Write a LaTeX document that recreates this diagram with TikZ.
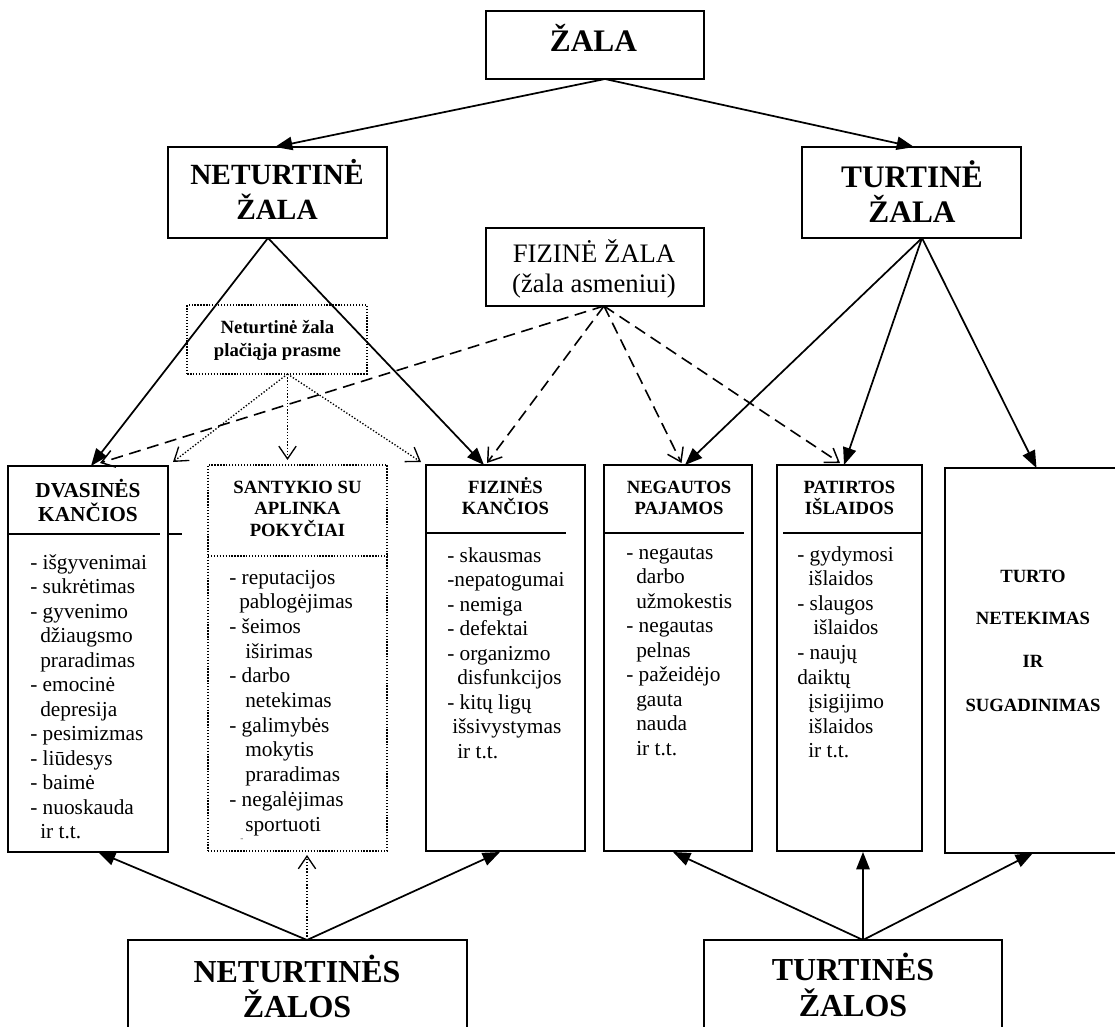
\documentclass[tikz,border=0pt]{standalone}
\usepackage{fontspec}
\setmainfont{Liberation Serif}
\usetikzlibrary{arrows.meta,calc}
\newcommand\fTitle{\fontsize{23.5}{26}\selectfont\bfseries}
\newcommand\fNTitle{\fontsize{22}{26}\selectfont\bfseries}
\newcommand\fHead{\fontsize{14}{16}\selectfont\bfseries}
\newcommand\fHeadB{\fontsize{16}{18}\selectfont\bfseries}
\newcommand\fFiz{\fontsize{20}{24}\selectfont}
\begin{document}
\begin{tikzpicture}[x=0.75pt,y=-0.75pt,
  boxsz/.style 2 args={minimum width=#1*0.75pt,minimum height=#2*0.75pt},
  sbox/.style={draw,line width=1.5pt,inner sep=0pt,outer sep=0pt},
  dbox/.style={draw,line width=1.3pt,dash pattern=on 1pt off 1.2pt,inner sep=0pt,outer sep=0pt},
  txt/.style={inner sep=0pt,anchor=base},
  ltxt/.style={inner sep=0pt,anchor=base west,font=\fontsize{16}{18}\selectfont},
  sepline/.style={line width=1.5pt},
  solidarr/.style={line width=1.3pt,-{Triangle[length=13pt,width=10pt]}},
  dasharr/.style={line width=1.2pt,dash pattern=on 9pt off 5pt,-{Straight Barb[length=9.5pt,width=13pt,line width=1.1pt]}},
  dotarr/.style={line width=1pt,dash pattern=on 1pt off 1.4pt,-{Straight Barb[length=9.5pt,width=13pt,line width=1pt]}},
]
\useasboundingbox (0,0) rectangle (1115,1027);
\clip (0,0) rectangle (1115,1027);

% top boxes
\node[sbox,boxsz={218}{68}] (zala) at (595,45) {};
\node[txt,font=\fTitle] (zalat) at (593.5,52) {ŽALA};

\node[sbox,boxsz={219}{91}] (nz) at (277.5,192.5) {};
\node[txt,font=\fNTitle] (nzt1) at (277,185) {NETURTINĖ};
\node[txt,font=\fNTitle] (nzt2) at (277,220) {ŽALA};

\node[sbox,boxsz={219}{91}] (tz) at (911.5,192.5) {};
\node[txt,font=\fTitle] (tzt1) at (912,188) {TURTINĖ};
\node[txt,font=\fTitle] (tzt2) at (912,223) {ŽALA};

\node[sbox,boxsz={218}{78}] (fz) at (595,267) {};
\node[txt,font=\fFiz] (fzt1) at (594,263) {FIZINĖ ŽALA};
\node[txt,font=\fFiz] (fzt2) at (594,293) {(žala asmeniui)};

\node[dbox,boxsz={179.5}{69}] (npl) at (277,339.5) {};
\node[txt,font=\fontsize{14}{16}\selectfont\bfseries] (nplt1) at (277.5,334) {Neturtinė žala};
\node[txt,font=\fontsize{14}{16}\selectfont\bfseries] (nplt2) at (277.5,357) {plačiąja prasme};

% column boxes
\node[sbox,boxsz={160}{386}] (dv) at (88,659) {};
\node[dbox,boxsz={179}{386}] (sa) at (297.5,658) {};
\node[sbox,boxsz={159}{386}] (fk) at (505.5,658) {};
\node[sbox,boxsz={148}{386}] (ng) at (678,658) {};
\node[sbox,boxsz={145}{386}] (pt) at (849.5,658) {};
\node[sbox,boxsz={180}{385}] (tt) at (1035,660.5) {};

% separators
\draw[sepline] (8,534) -- (160,534);
\draw[sepline] (168,534) -- (182,534);
\draw[line width=1.3pt,dash pattern=on 1pt off 1.2pt] (208,556) -- (387,556);
\draw[sepline] (426,533) -- (566,533);
\draw[sepline] (604,533) -- (744,533);
\draw[sepline] (783,533) -- (922,533);

% headers
\node[txt,font=\fHeadB] (dvh1) at (88,497) {DVASINĖS};
\node[txt,font=\fHeadB] (dvh2) at (88,521) {KANČIOS};
\node[txt,font=\fHead] (sah1) at (297.5,493) {SANTYKIO SU};
\node[txt,font=\fHead] (sah2) at (297.5,514.5) {APLINKA};
\node[txt,font=\fHead] (sah3) at (297.5,536) {POKYČIAI};
\node[txt,font=\fHead] (fkh1) at (505.5,493) {FIZINĖS};
\node[txt,font=\fHead] (fkh2) at (505.5,514) {KANČIOS};
\node[txt,font=\fHead] (ngh1) at (679,493) {NEGAUTOS};
\node[txt,font=\fHead] (ngh2) at (679,514) {PAJAMOS};
\node[txt,font=\fHead] (pth1) at (849.5,493) {PATIRTOS};
\node[txt,font=\fHead] (pth2) at (849.5,514) {IŠLAIDOS};

\node[txt,font=\fHead] (tt1) at (1033,582) {TURTO};
\node[txt,font=\fHead] (tt2) at (1033,624) {NETEKIMAS};
\node[txt,font=\fHead] (tt3) at (1033,667) {IR};
\node[txt,font=\fHead] (tt4) at (1033,711) {SUGADINIMAS};

% lists
\foreach \t/\xx [count=\i from 0] in {{- išgyvenimai}/30,{- sukrėtimas}/30,{- gyvenimo}/30,{džiaugsmo}/40,{praradimas}/40,{- emocinė}/30,{depresija}/40,{- pesimizmas}/30,{- liūdesys}/30,{- baimė}/30,{- nuoskauda}/30,{ir t.t.}/40}
  \node[ltxt] (dvl\i) at (\xx,{569+24.5*\i}) {\t};

\foreach \t/\xx [count=\i from 0] in {{- reputacijos}/229,{pablogėjimas}/239,{- šeimos}/229,{iširimas}/245,{- darbo}/229,{netekimas}/245,{- galimybės}/229,{mokytis}/245,{praradimas}/245,{- negalėjimas}/229,{sportuoti}/245}
  \node[ltxt] (sal\i) at (\xx,{584+24.7*\i}) {\t};
\node[inner sep=0pt,anchor=base,font=\fontsize{7}{8}\selectfont,text=black!60] (sadot) at (242,841) {-};

\foreach \t/\xx [count=\i from 0] in {{- skausmas}/447,{-nepatogumai}/447,{- nemiga}/447,{- defektai}/447,{- organizmo}/447,{disfunkcijos}/457,{- kitų ligų}/447,{išsivystymas}/452,{ir t.t.}/457}
  \node[ltxt] (fkl\i) at (\xx,{562+24.5*\i}) {\t};

\foreach \t/\xx [count=\i from 0] in {{- negautas}/626,{darbo}/636,{užmokestis}/636,{- negautas}/626,{pelnas}/636,{- pažeidėjo}/626,{gauta}/636,{nauda}/636,{ir t.t.}/636}
  \node[ltxt] (ngl\i) at (\xx,{559+24.5*\i}) {\t};

\foreach \t/\xx [count=\i from 0] in {{- gydymosi}/797,{išlaidos}/808,{- slaugos}/797,{išlaidos}/813,{- naujų}/797,{daiktų}/797,{įsigijimo}/808,{išlaidos}/808,{ir t.t.}/808}
  \node[ltxt] (ptl\i) at (\xx,{561+24.6*\i}) {\t};

% bottom boxes
\node[sbox,boxsz={339}{120}] (bn) at (297.5,1000) {};
\node[txt,font=\fontsize{24}{28}\selectfont\bfseries] (bnt1) at (297,982) {NETURTINĖS};
\node[txt,font=\fontsize{24}{28}\selectfont\bfseries] (bnt2) at (297,1017) {ŽALOS};
\node[sbox,boxsz={298}{120}] (bt) at (853,1000) {};
\node[txt,font=\fontsize{24}{28}\selectfont\bfseries] (btt1) at (853,980) {TURTINĖS};
\node[txt,font=\fontsize{24}{28}\selectfont\bfseries] (btt2) at (853,1016) {ŽALOS};

% connectors top
\draw[solidarr] ($(zala.south)+(10,0)$) -- ($(nz.north)+(-2.5,0)$);
\draw[solidarr] ($(zala.south)+(10,0)$) -- ($(tz.north)+(2.5,0)$);
\draw[solidarr] ($(nz.south)+(-9.5,0)$) -- ($(dv.north)+(3,0)$);
\draw[solidarr] ($(nz.south)+(-9.5,0)$) -- ($(fk.north)+(-21.5,0)$);
\draw[solidarr] ($(tz.south)+(10.5,0)$) -- ($(ng.north)+(7,0)$);
\draw[solidarr] ($(tz.south)+(10.5,0)$) -- ($(pt.north)+(-5.5,0)$);
\draw[solidarr] ($(tz.south)+(10.5,0)$) -- ($(tt.north)+(1.5,0)$);

\draw[dasharr] ($(fz.south)+(9,0)$) -- ($(dv.north)+(12,-3)$);
\draw[dasharr] ($(fz.south)+(9,0)$) -- ($(fk.north)+(-18.5,-2)$);
\draw[dasharr] ($(fz.south)+(9,0)$) -- ($(ng.north)+(3.5,-2)$);
\draw[dasharr] ($(fz.south)+(9,0)$) -- ($(pt.north)+(-9.5,-2)$);

\draw[dotarr] ($(npl.south)+(10.5,0)$) -- ($(dv.north east)+(5,-4)$);
\draw[dotarr] ($(npl.south)+(10.5,0)$) -- ($(sa.north)+(-10,-5)$);
\draw[dotarr] ($(npl.south)+(10.5,0)$) -- ($(fk.north west)+(-5,-3)$);

% connectors bottom
\draw[solidarr] ($(bn.north)+(9.5,0)$) -- ($(dv.south)+(10,0)$);
\draw[solidarr] ($(bn.north)+(9.5,0)$) -- ($(fk.south)+(-5.5,1)$);
\draw[dotarr] ($(bn.north)+(9.5,0)$) -- ($(sa.south)+(9.5,4)$);
\draw[solidarr] ($(bt.north)+(10,0)$) -- ($(ng.south)+(-5,1)$);
\draw[solidarr] ($(bt.north)+(10,0)$) -- ($(pt.south)+(13.5,1)$);
\draw[solidarr] ($(bt.north)+(10,0)$) -- ($(tt.south)+(-2,0)$);
\end{tikzpicture}
\end{document}
